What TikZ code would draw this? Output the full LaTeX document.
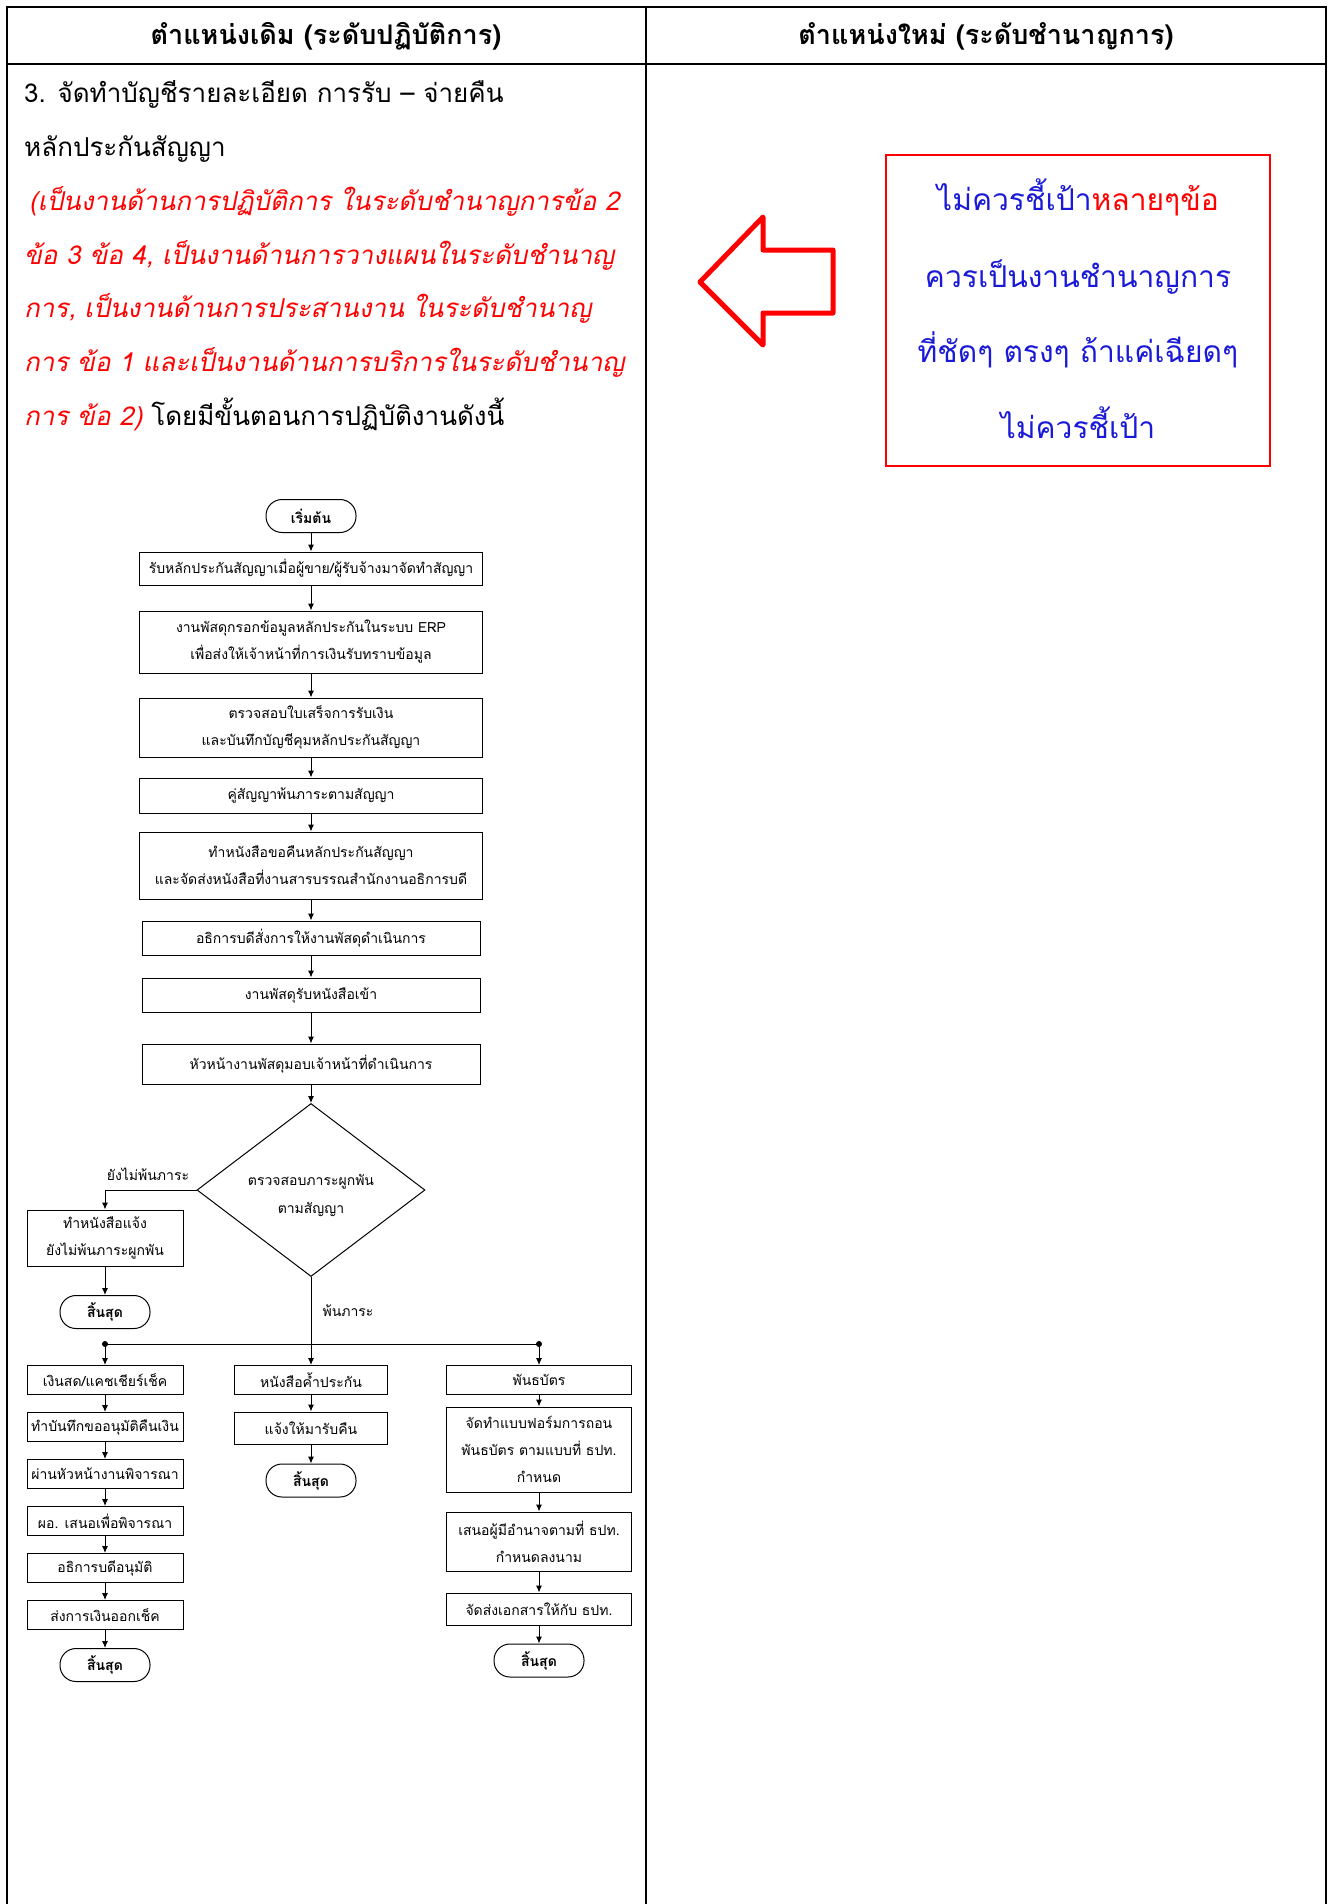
\documentclass[tikz,border=0pt]{standalone}
\usepackage{fontspec}
\setmainfont[Script=Thai]{Loma}
\newfontfamily\thaiit[Script=Thai,FakeSlant=0.2]{Loma}
\usetikzlibrary{shapes.geometric,arrows.meta}
\definecolor{notered}{RGB}{255,0,0}
\definecolor{noteblue}{RGB}{25,25,215}
\newcommand{\flowfont}{\fontsize{14}{27}\selectfont}
\newcommand{\bodyfont}{\fontsize{26}{54}\selectfont}
\tikzset{
	stepbox/.style={draw,line width=1pt,align=center,inner sep=1pt,font=\flowfont},
	endcap/.style={draw,line width=1pt,rounded corners=16pt,minimum width=90pt,minimum height=33pt,font=\flowfont\bfseries},
	flowline/.style={line width=1pt,-{Latex[length=7pt,width=6pt]}},
	tableline/.style={line width=1.6pt},
	bodytext/.style={anchor=base west,inner sep=0pt,font=\bodyfont},
	redtext/.style={bodytext,text=notered,font=\bodyfont\thaiit},
	notetext/.style={anchor=base,inner sep=0pt,text=noteblue,font=\fontsize{30}{76}\selectfont}
}
\begin{document}
\begin{tikzpicture}[x=1pt,y=-1pt]
	\useasboundingbox (0,0) rectangle (1332,1904);
	\draw[tableline] (7,1904)--(7,7)--(1326,7)--(1326,1904); %outer frame
	\draw[tableline] (7,64)--(1326,64); %header rule
	\draw[tableline] (646,7)--(646,1904); %column rule
	\node[font=\fontsize{27}{30}\selectfont\bfseries] (headold) at (326,36) {ตำแหน่งเดิม (ระดับปฏิบัติการ)}; %left header
	\node[font=\fontsize{27}{30}\selectfont\bfseries] (headnew) at (986,36) {ตำแหน่งใหม่ (ระดับชำนาญการ)}; %right header
	\node[bodytext] (t1) at (24,102) {3. จัดทำบัญชีรายละเอียด การรับ – จ่ายคืน}; %task title
	\node[bodytext] (t2) at (24,156) {หลักประกันสัญญา};
	\node[redtext] (t3) at (29,210) {(เป็นงานด้านการปฏิบัติการ ในระดับชำนาญการข้อ 2}; %red remark
	\node[redtext] (t4) at (24,264) {ข้อ 3 ข้อ 4, เป็นงานด้านการวางแผนในระดับชำนาญ};
	\node[redtext] (t5) at (24,317) {การ, เป็นงานด้านการประสานงาน ในระดับชำนาญ};
	\node[redtext] (t6) at (24,371) {การ ข้อ 1 และเป็นงานด้านการบริการในระดับชำนาญ};
	\node[bodytext] (t7) at (24,425) {\textcolor{notered}{\thaiit การ ข้อ 2)} โดยมีขั้นตอนการปฏิบัติงานดังนี้};
	\draw[notered,line width=5pt,line join=round] (700,282)--(763,217)--(763,250)--(833,250)--(833,313)--(763,313)--(763,345)--cycle; %red arrow
	\node[draw=notered,line width=1.5pt,minimum width=384pt,minimum height=311pt] (note) at (1078,310.5) {}; %comment box
	\node[notetext] (n1) at (1078,210) {ไม่ควรชี้เป้า\textcolor{notered}{หลายๆข้อ}};
	\node[notetext] (n2) at (1078,287) {ควรเป็นงานชำนาญการ};
	\node[notetext] (n3) at (1078,362) {ที่ชัดๆ ตรงๆ ถ้าแค่เฉียดๆ};
	\node[notetext] (n4) at (1078,438) {ไม่ควรชี้เป้า};
	% main flow
	\node[endcap] (start) at (311,516) {เริ่มต้น};
	\node[stepbox,minimum width=343pt,minimum height=33pt] (b1) at (311,568.5) {รับหลักประกันสัญญาเมื่อผู้ขาย/ผู้รับจ้างมาจัดทำสัญญา};
	\node[stepbox,minimum width=343pt,minimum height=62pt] (b2) at (311,642) {งานพัสดุกรอกข้อมูลหลักประกันในระบบ ERP\\เพื่อส่งให้เจ้าหน้าที่การเงินรับทราบข้อมูล};
	\node[stepbox,minimum width=343pt,minimum height=59pt] (b3) at (311,727.5) {ตรวจสอบใบเสร็จการรับเงิน\\และบันทึกบัญชีคุมหลักประกันสัญญา};
	\node[stepbox,minimum width=343pt,minimum height=35pt] (b4) at (311,795.5) {คู่สัญญาพ้นภาระตามสัญญา};
	\node[stepbox,minimum width=343pt,minimum height=67pt] (b5) at (311,865.5) {ทำหนังสือขอคืนหลักประกันสัญญา\\และจัดส่งหนังสือที่งานสารบรรณสำนักงานอธิการบดี};
	\node[stepbox,minimum width=338pt,minimum height=34pt] (b6) at (311,938) {อธิการบดีสั่งการให้งานพัสดุดำเนินการ};
	\node[stepbox,minimum width=338pt,minimum height=34pt] (b7) at (311,995) {งานพัสดุรับหนังสือเข้า};
	\node[stepbox,minimum width=338pt,minimum height=40pt] (b8) at (311,1064) {หัวหน้างานพัสดุมอบเจ้าหน้าที่ดำเนินการ};
	\node[draw,line width=1pt,diamond,aspect=1.32,minimum width=228pt,minimum height=173pt,inner sep=0pt,align=center,font=\fontsize{14}{28}\selectfont] (chk) at (311,1190) {\\[-6pt]ตรวจสอบภาระผูกพัน\\ตามสัญญา}; %decision
	\foreach \a/\b in {start/b1,b1/b2,b2/b3,b3/b4,b4/b5,b5/b6,b6/b7,b7/b8,b8/chk}
		\draw[flowline] (\a) -- (\b);
	% not yet released
	\node[font=\flowfont] (nolbl) at (148,1174) {ยังไม่พ้นภาระ};
	\node[stepbox,minimum width=156pt,minimum height=56pt] (l1) at (105,1238) {ทำหนังสือแจ้ง\\ยังไม่พ้นภาระผูกพัน};
	\node[endcap] (lend) at (105,1312) {สิ้นสุด};
	\draw[flowline] (chk.west) -| (l1);
	\draw[flowline] (l1) -- (lend);
	% released, three kinds of guarantee
	\node[font=\flowfont,anchor=west] (yeslbl) at (319,1311) {พ้นภาระ};
	\coordinate (busL) at (105,1344);
	\coordinate (busR) at (539,1344);
	\draw[line width=1pt] (busL) -- (busR); %split line
	\fill (busL) circle (3pt);
	\fill (busR) circle (3pt);
	\node[stepbox,minimum width=156pt,minimum height=29pt] (c1) at (105,1380) {เงินสด/แคชเชียร์เช็ค};
	\node[stepbox,minimum width=156pt,minimum height=29pt] (c2) at (105,1427) {ทำบันทึกขออนุมัติคืนเงิน};
	\node[stepbox,minimum width=156pt,minimum height=29pt] (c3) at (105,1474) {ผ่านหัวหน้างานพิจารณา};
	\node[stepbox,minimum width=156pt,minimum height=29pt] (c4) at (105,1521) {ผอ. เสนอเพื่อพิจารณา};
	\node[stepbox,minimum width=156pt,minimum height=29pt] (c5) at (105,1568) {อธิการบดีอนุมัติ};
	\node[stepbox,minimum width=156pt,minimum height=29pt] (c6) at (105,1615) {ส่งการเงินออกเช็ค};
	\node[endcap] (cend) at (105,1665) {สิ้นสุด};
	\node[stepbox,minimum width=153pt,minimum height=29pt] (m1) at (311,1380) {หนังสือค้ำประกัน};
	\node[stepbox,minimum width=153pt,minimum height=32pt] (m2) at (311,1428) {แจ้งให้มารับคืน};
	\node[endcap] (mend) at (311,1480.5) {สิ้นสุด};
	\node[stepbox,minimum width=185pt,minimum height=29pt] (r1) at (539,1380) {พันธบัตร};
	\node[stepbox,minimum width=185pt,minimum height=85pt] (r2) at (539,1449.5) {จัดทำแบบฟอร์มการถอน\\พันธบัตร ตามแบบที่ ธปท.\\กำหนด};
	\node[stepbox,minimum width=185pt,minimum height=59pt] (r3) at (539,1541.5) {เสนอผู้มีอำนาจตามที่ ธปท.\\กำหนดลงนาม};
	\node[stepbox,minimum width=185pt,minimum height=32pt] (r4) at (539,1609) {จัดส่งเอกสารให้กับ ธปท.};
	\node[endcap] (rend) at (539,1660.5) {สิ้นสุด};
	\draw[flowline] (chk.south) -- (m1);
	\draw[flowline] (busL) -- (c1);
	\draw[flowline] (busR) -- (r1);
	\foreach \a/\b in {c1/c2,c2/c3,c3/c4,c4/c5,c5/c6,c6/cend,m1/m2,m2/mend,r1/r2,r2/r3,r3/r4,r4/rend}
		\draw[flowline] (\a) -- (\b);
\end{tikzpicture}
\end{document}
